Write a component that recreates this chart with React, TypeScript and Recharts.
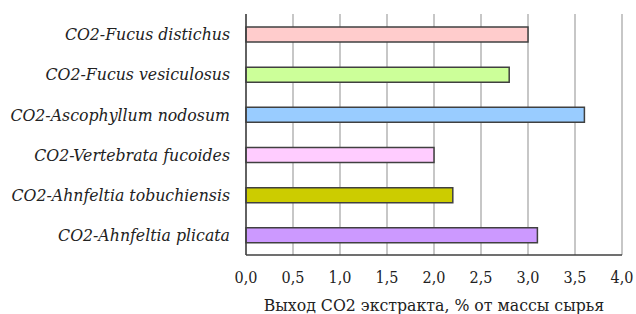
import { Bar, BarChart, CartesianGrid, Cell, XAxis, YAxis } from "recharts"

const samples = [
  "CO2-Fucus distichus",
  "CO2-Fucus vesiculosus",
  "CO2-Ascophyllum nodosum",
  "CO2-Vertebrata fucoides",
  "CO2-Ahnfeltia tobuchiensis",
  "CO2-Ahnfeltia plicata",
]
const yields = [3.0, 2.8, 3.6, 2.0, 2.2, 3.1]
const xTicks = [0, 0.5, 1, 1.5, 2, 2.5, 3, 3.5, 4]
const axisTitle = "Выход СО2 экстракта, % от массы сырья"

const barColors = ["#ffcccc", "#ccff99", "#99ccff", "#ffccff", "#cccc00", "#cc99ff"]

const data = samples.map((name, i) => ({ name, value: yields[i] }))

const font = "DejaVu Serif Condensed"
const fmt = (v: number) => v.toFixed(1).replace(".", ",")

export default function App() {
  return (
    <div style={{ position: "absolute", left: 0, top: 0, background: "#fff" }}>
      <BarChart
        width={636}
        height={314}
        data={data}
        layout="vertical"
        margin={{ top: 14, right: 14, bottom: 0, left: 0 }}
        barSize={15}
      >
        <CartesianGrid horizontal={false} stroke="#b5b5b5" strokeWidth={1.5} />
        <XAxis
          type="number"
          dataKey="value"
          domain={[0, 4]}
          ticks={xTicks}
          tickFormatter={fmt}
          tickLine={false}
          tickMargin={11}
          height={59}
          axisLine={{ stroke: "#404040", strokeWidth: 1.5 }}
          tick={{ fill: "#222", fontSize: 16, fontFamily: font }}
          label={{
            value: axisTitle,
            position: "insideBottom",
            offset: 3,
            fill: "#222",
            fontSize: 17.5,
            fontFamily: font,
          }}
        />
        <XAxis
          xAxisId="top"
          orientation="top"
          type="number"
          domain={[0, 4]}
          tick={false}
          tickLine={false}
          height={0}
          axisLine={{ stroke: "#404040", strokeWidth: 1.5 }}
        />
        <YAxis
          type="category"
          dataKey="name"
          width={246}
          tickLine={false}
          tickMargin={10}
          interval={0}
          axisLine={{ stroke: "#404040", strokeWidth: 1.5 }}
          tick={{ fill: "#222", fontSize: 17.5, fontFamily: font, fontStyle: "italic" }}
        />
        <YAxis
          yAxisId="right"
          orientation="right"
          type="category"
          dataKey="name"
          width={0}
          tick={false}
          tickLine={false}
          axisLine={{ stroke: "#404040", strokeWidth: 1.5 }}
        />
        <Bar dataKey="value" stroke="#404040" strokeWidth={1.5} isAnimationActive={false}>
          {data.map((d, i) => (
            <Cell key={d.name} fill={barColors[i]} />
          ))}
        </Bar>
      </BarChart>
    </div>
  )
}
